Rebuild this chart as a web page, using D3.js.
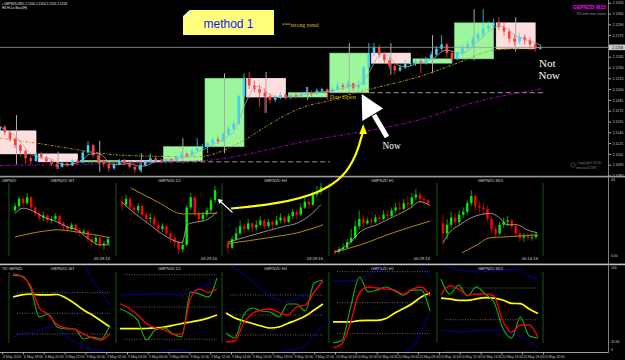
<!DOCTYPE html>
<html>
<head>
<meta charset="utf-8">
<script src="https://cdn.jsdelivr.net/npm/d3@7/dist/d3.min.js"></script>
<style>
  body { margin: 0; background: #000; }
  svg { display: block; font-family: "Liberation Sans", Arial, sans-serif; }
</style>
</head>
<body>
<div id="chart"></div>
<script>
/**********************/
/******* data         */
/**********************/

// main chart bars, prices in pips above 2.1000 (open = previous close)
const BASE = 2.1;
const firstOpen = 142;
const closes = [
  148,140,131,122,114,104,100,110,
  105,100,96,92,97,94,101,99,
  112,122,108,100,96,90,95,101,
  97,92,88,94,99,104,101,100,
  103,101,106,110,108,114,118,120,
  125,130,128,138,145,152,190,215,
  205,200,195,190,185,188,192,189,
  192,190,194,196,193,198,200,195,
  200,205,203,208,202,206,230,250,
  258,248,240,232,226,230,236,236,
  239,236,242,248,256,262,250,242,
  250,258,262,270,276,284,288,292,
  286,280,270,266,272,268,262,256,
  258
];
const highs = [
  164,150,142,133,124,116,108,112,
  113,107,102,98,99,99,103,103,
  115,128,124,110,102,98,97,103,
  103,98,94,97,101,111,106,103,
  105,104,108,113,112,117,132,124,
  126,133,134,140,148,156,192,222,
  224,212,206,201,194,192,196,195,
  194,195,196,203,198,201,202,201,
  203,210,208,212,209,212,233,264,
  264,262,252,244,236,234,240,240,
  242,241,245,252,260,275,264,252,
  252,262,266,274,280,311,294,298,
  300,292,284,276,278,276,272,266,
  262
];
const lows = [
  138,136,127,118,106,96,95,99,
  103,98,93,89,91,92,93,97,
  97,110,105,97,92,85,88,94,
  95,90,84,86,93,97,99,98,
  97,99,100,104,105,107,113,115,
  111,119,124,126,136,143,150,186,
  200,196,176,167,180,182,186,185,
  186,187,188,192,190,192,195,185,
  195,198,199,201,198,200,205,228,
  246,244,236,228,220,224,228,232,
  232,222,234,240,246,252,244,238,
  240,246,255,258,266,272,280,284,
  282,274,264,260,262,262,254,252,
  255
];

// slow moving averages (bar index, pips)
const maMidBar  = [0, 7, 24, 38, 47, 51, 58, 64, 69, 73, 81, 88, 95, 104];
const maMidPips = [132, 125, 108, 106, 129, 147, 174, 185, 196, 203, 218, 236, 254, 258];
const maSlowBar  = [0, 38, 60, 81, 91, 104];
const maSlowPips = [94, 100, 129, 158, 181, 200];
const dayStartBars = [16, 64];

const priceTicks = [2.1320, 2.1305, 2.1290, 2.1275, 2.1260, 2.1245, 2.1230, 2.1215, 2.1200,
                    2.1185, 2.1170, 2.1155, 2.1140, 2.1125, 2.1110, 2.1095, 2.1080];
const timeLabels = ["6 May 2016", "6 May 18:00", "6 May 20:00", "6 May 22:00",
  "9 May 00:00", "9 May 02:00", "9 May 04:00", "9 May 06:00", "9 May 08:00", "9 May 10:00",
  "9 May 12:00", "9 May 14:00", "9 May 16:00", "9 May 18:00", "9 May 20:00", "9 May 22:00",
  "10 May 00:00", "10 May 02:00", "10 May 04:00", "10 May 06:00", "10 May 08:00", "10 May 10:00",
  "10 May 12:00", "10 May 14:00", "10 May 16:00", "10 May 18:00", "10 May 20:00"];

// mini charts (values on a 0-100 panel scale)
const miniTitles = ["GBPNZD W1", "GBPNZD D1", "GBPNZD H4", "GBPNZD H1", "GBPNZD M15"];
const miniTimers = ["05:29:16", "03:29:16", "03:29:16", "00:29:16", "00:14:16"];

const w1Open = 62;
const w1Close = [68,78,72,80,66,58,52,55,48,50,54,44,40,36,42,35,31,33,22,18,24,14,16,22];
const w1High  = [72,82,80,86,82,68,60,60,56,54,58,56,46,42,45,44,38,36,34,26,28,25,20,26];
const w1Low   = [60,64,68,70,62,54,48,47,44,44,48,40,34,31,34,30,26,28,18,12,14,9,8,14];
const w1GrayBar = [0, 2, 4.5, 7, 10.4, 12.9, 15.3, 17.8, 21, 23.5];
const w1GrayVal = [58, 65, 61, 53, 46, 39, 35, 24, 14, 14];
const w1GoldBar = [0, 7, 10.4, 15.3, 23.5];
const w1GoldVal = [25, 33, 35, 32, 24];

const d1Open = 74;
const d1Close = [70,78,66,62,68,56,50,52,42,36,40,30,24,18,8,14,66,80,58,50,56,62,76,90];
const d1High  = [82,84,80,70,72,70,60,58,56,46,44,42,34,28,20,20,70,86,82,62,60,66,80,96];
const d1Low   = [62,66,62,56,58,52,44,44,38,30,32,26,18,10,2,4,12,62,54,44,46,52,58,72];
const d1GrayBar = [0.2, 2.7, 6.9, 11.1, 14.9, 16.1, 18.6, 21, 23.5];
const d1GrayVal = [72, 60, 42, 25, 17, 42, 46, 49, 60];
const d1GoldBar = [2.2, 8.7, 15.1, 23.5];
const d1GoldVal = [93, 74, 57, 58];

const h4Open = 16;
const h4Close = [10,22,30,40,36,44,38,42,48,40,46,42,48,52,46,54,60,56,66,74,70,84,88,94];
const h4High  = [20,26,38,48,44,50,46,48,54,50,50,48,54,58,54,58,64,64,72,80,78,88,96,100];
const h4Low   = [2,8,20,28,30,34,32,34,40,36,38,36,40,44,42,44,50,50,54,64,64,68,80,84];
const h4GrayBar = [0, 5, 10, 14, 17, 20, 23];
const h4GrayVal = [18, 26, 34, 40, 44, 54, 70];
const h4GoldBar = [0, 10, 18, 23.5];
const h4GoldVal = [16, 24, 32, 42];

const h1Open = 6;
const h1Close = [4,8,10,18,24,40,50,44,48,46,52,50,56,54,62,66,64,72,70,80,84,78,76,72];
const h1High  = [8,12,16,22,36,48,62,54,52,52,56,56,62,62,66,72,74,78,82,86,92,88,82,78];
const h1Low   = [0,2,6,8,16,22,36,38,42,40,44,46,48,50,52,58,60,62,64,66,76,72,70,66];
const h1GrayBar = [0, 3.7, 6.2, 10.4, 14.4, 18.6, 21, 23.5];
const h1GrayVal = [4, 17, 32, 42, 53, 65, 74, 69];
const h1GoldBar = [0, 6.2, 14.4, 23.5];
const h1GoldVal = [4, 14, 31, 47];

const m15Open = 44;
const m15Close = [30,42,52,46,56,60,72,82,68,66,64,50,36,30,42,46,48,40,30,24,26,24,25,28];
const m15High  = [56,50,60,58,62,66,76,90,84,74,72,68,54,40,46,52,54,50,44,34,30,30,30,32];
const m15Low   = [14,22,38,40,42,52,56,68,62,58,56,46,30,24,28,38,40,36,26,18,18,20,20,22];
const m15GrayBar = [0, 1.7, 4.2, 6.7, 9.2, 11.6, 14.1, 15.8, 18.3, 20.8, 23.3];
const m15GrayVal = [17, 32, 42, 51, 56, 58, 51, 42, 42, 35, 31];
const m15GoldBar = [4.7, 8.4, 11.6, 14.9, 23.5];
const m15GoldVal = [3, 14, 24, 25, 28];

// TDI sub charts, 12 samples across each panel
const tdiLevels = [32, 50, 68];
const tdiW1Green  = [83.1, 82.5, 72, 46.8, 49.4, 38, 36.3, 36.3, 27.6, 29.3, 27.6, 39.8];
const tdiW1Red    = [84.5, 82.1, 73.8, 54.6, 49, 40.2, 37.2, 35.9, 32, 28.5, 26.7, 32.2];
const tdiW1Yellow = [64.2, 66, 66.8, 66, 66, 66.4, 63.3, 58.5, 52.9, 48.5, 43.3, 38];
const tdiW1Up     = [113.9, 112.2, 109.5, 107.8, 105.2, 103.4, 100.8, 97.3, 92.1, 79, 68.6, 57.2];
const tdiW1Dn     = [29.3, 32, 33.7, 35, 38, 38, 30.2, 25, 21.5, 18, 17.1, 16.3];

const tdiD1Green  = [49, 46.6, 42.7, 31.6, 37.2, 38.3, 34.9, 33.3, 58.3, 57.2, 55.6, 66.2];
const tdiD1Red    = [51.8, 49.4, 45.5, 40.8, 38.3, 37.2, 34.9, 34.9, 55, 60, 58.1, 60];
const tdiD1Yellow = [37.9, 37.9, 37.9, 38, 38.3, 38.8, 39.7, 40.8, 41.6, 42.5, 43.8, 45.5];
const tdiD1Up     = [56.6, 56.8, 56.9, 57, 57.2, 57.2, 57, 56.5, 58.3, 60.9, 62.3, 65.6];
const tdiD1Dn     = [21.5, 22.1, 22.7, 23.2, 24.3, 25.4, 26, 26, 24.9, 22.7, 21.5, 21.5];

const tdiH4Green  = [33.8, 29.3, 50, 56.3, 53.6, 52.7, 48.2, 59.9, 59.9, 53.6, 78.8, 81.5];
const tdiH4Red    = [25.7, 26.6, 42.8, 51.4, 54.5, 55.4, 52.3, 50, 57.2, 59, 70.7, 80.6];
const tdiH4Yellow = [51.8, 47.3, 44.6, 42.4, 40.1, 38.3, 39.2, 42.4, 45.5, 49.1, 54.5, 59.9];
const tdiH4Up     = [97.7, 92.3, 86.9, 79.7, 73.4, 67.1, 63.5, 61.7, 64.4, 68, 74.3, 81.5];
const tdiH4Dn     = [7.7, 8.6, 9.5, 11.3, 13.1, 14.9, 16.7, 18.5, 19.4, 22.1, 33.8, 39.2];

const tdiH1Green  = [26.6, 28, 47.5, 64.9, 56.2, 57.3, 59.1, 56.8, 54.3, 57.3, 57.3, 45.1];
const tdiH1Red    = [23.7, 26, 38.8, 55.6, 59.1, 58.5, 57.9, 57.3, 55, 57.9, 59.1, 53.9];
const tdiH1Yellow = [38.8, 38.8, 38.8, 39.6, 39.7, 39.7, 40.8, 44, 46.6, 49.5, 53.3, 55.6];
const tdiH1Up     = [62.6, 62.6, 62.6, 63.7, 66.1, 69, 71.3, 73.6, 74.8, 73.6, 70.7, 64.9];
const tdiH1Dn     = [13.8, 13.8, 14.4, 15, 15.5, 16.7, 17.9, 19.6, 21.3, 23.7, 33, 44.6];

const tdiM15Green  = [73.1, 64.6, 69.7, 63.5, 68.6, 64.6, 60.1, 45.3, 39.6, 51.5, 40.8, 39.6];
const tdiM15Red    = [64, 69.4, 67.4, 63.9, 64.6, 64.6, 63.5, 49.3, 43, 47, 47, 40.2];
const tdiM15Yellow = [62.3, 61.8, 61, 61, 61.8, 62.6, 62.3, 61.2, 59.3, 59.1, 56.1, 53.5];
const tdiM15Up     = [81.1, 79.4, 78.2, 77.7, 77.1, 77.4, 77.7, 77.9, 78.5, 78.8, 74.8, 73.4];
const tdiM15Dn     = [44.2, 43.6, 43, 43.3, 43.9, 44, 44, 43.6, 41.9, 40.2, 37.9, 34.5];

/**********************/
/******* layout       */
/**********************/

const W = 625, H = 360;
const axisX = 608.5;
const subLeft = [9, 116, 222, 329, 437];
const subEnd = 543;

const svg = d3.select("#chart").append("svg").attr("width", W).attr("height", H);
svg.append("rect").attr("width", W).attr("height", H).attr("fill", "#000");
const defs = svg.append("defs");

function clip(id, x, y, w, h) {
    defs.append("clipPath").attr("id", id)
        .append("rect").attr("x", x).attr("y", y).attr("width", w).attr("height", h);
    return `url(#${id})`;
}

function txt(g, x, y, s, size, fill, extra) {
    const t = g.append("text").attr("x", x).attr("y", y).text(s)
        .style("font-size", size + "px").attr("fill", fill);
    if (extra) extra(t);
    return t;
}

/**********************/
/******* main chart   */
/**********************/

const px = v => BASE + v / 10000;
const x = d3.scaleLinear().domain([0, 117]).range([-3, 605.4]);
const y = d3.scaleLinear().domain([2.1080, 2.1320]).range([175.5, 2.7]);

const candles = closes.map((c, i) => ({ i, o: i ? closes[i - 1] : firstOpen, h: highs[i], l: lows[i], c }));

const boxes = d3.range(Math.floor(candles.length / 8)).map(k => {
    const b = candles.slice(k * 8, k * 8 + 8);
    return { k, o: b[0].o, c: b[b.length - 1].c, h: d3.max(b, d => d.h), l: d3.min(b, d => d.l) };
});

const main = svg.append("g").attr("clip-path", clip("cm", 0, 0, 608, 175.5));

// H4 body boxes
main.selectAll(".box")
    .data(boxes)
    .enter()
    .append("rect")
    .attr("class", "box")
    .attr("x", d => x(d.k * 8))
    .attr("width", d => x(d.k * 8 + 7.5) - x(d.k * 8))
    .attr("y", d => y(px(Math.max(d.o, d.c))))
    .attr("height", d => Math.max(1.5, y(px(Math.min(d.o, d.c))) - y(px(Math.max(d.o, d.c)))))
    .attr("fill", d => d.c >= d.o ? "#9cf79c" : "#ffdede")
    .attr("stroke", d => d.c >= d.o ? "#7ee07e" : "#fff4f4")
    .attr("stroke-width", 0.6);

// H4 wicks
main.selectAll(".hwick")
    .data(boxes)
    .enter()
    .append("line")
    .attr("x1", d => x(d.k * 8 + 3.75)).attr("x2", d => x(d.k * 8 + 3.75))
    .attr("y1", d => y(px(d.h))).attr("y2", d => y(px(d.l)))
    .attr("stroke", "#a9a9a9").attr("stroke-width", 1);

// day open lines
main.selectAll(".dayopen")
    .data(dayStartBars)
    .enter()
    .append("line")
    .attr("x1", d => x(d))
    .attr("x2", (d, i) => x(i + 1 < dayStartBars.length ? dayStartBars[i + 1] : candles.length))
    .attr("y1", d => y(px(candles[d].o))).attr("y2", d => y(px(candles[d].o)))
    .attr("stroke", "#9a9a9a").attr("stroke-width", 1).attr("stroke-dasharray", "5,3");

const maLine = d3.line()
    .x(d => x(d[0] + 0.5))
    .y(d => y(px(d[1])))
    .curve(d3.curveMonotoneX);

main.append("path")
    .attr("d", maLine(d3.zip(maSlowBar, maSlowPips)))
    .attr("fill", "none").attr("stroke", "#b000b0").attr("stroke-width", 1)
    .attr("stroke-dasharray", "3,1.5,1,1.5");

main.append("path")
    .attr("d", maLine(d3.zip(maMidBar, maMidPips)))
    .attr("fill", "none").attr("stroke", "#b89a00").attr("stroke-width", 1)
    .attr("stroke-dasharray", "2.5,1.5,1,1.5");

// candles
const bullCol = "#3cd2f0", bearCol = "#ff3c3c";
const cg = main.selectAll(".candle")
    .data(candles)
    .enter()
    .append("g");

cg.append("line")
    .attr("x1", d => x(d.i + 0.5)).attr("x2", d => x(d.i + 0.5))
    .attr("y1", d => y(px(d.h))).attr("y2", d => y(px(d.l)))
    .attr("stroke", d => d.c >= d.o ? bullCol : bearCol).attr("stroke-width", 0.8);

cg.append("rect")
    .attr("x", d => x(d.i + 0.5) - 1.3)
    .attr("width", 2.6)
    .attr("y", d => y(px(Math.max(d.o, d.c))))
    .attr("height", d => Math.max(0.8, y(px(Math.min(d.o, d.c))) - y(px(Math.max(d.o, d.c)))))
    .attr("fill", d => d.c >= d.o ? bullCol : bearCol);

// fast average of closes
const fast = candles.map((d, i) => [i, d3.mean(closes.slice(Math.max(0, i - 3), i + 1))]);
main.append("path")
    .attr("d", maLine(fast))
    .attr("fill", "none").attr("stroke", "#a8a8a8").attr("stroke-width", 0.8);

// bid line
const last = closes[closes.length - 1];
svg.append("line")
    .attr("x1", 0).attr("x2", axisX)
    .attr("y1", y(px(last))).attr("y2", y(px(last)))
    .attr("stroke", "#9a9a9a").attr("stroke-width", 0.8);

// price axis
const yAxis = svg.append("g")
    .attr("transform", `translate(${axisX}, 0)`)
    .call(d3.axisRight(y).tickValues(priceTicks).tickFormat(d3.format(".4f")).tickSize(2.5).tickPadding(1.5));
yAxis.select(".domain").remove();
yAxis.selectAll("line").attr("stroke", "#b0b0b0");
yAxis.selectAll("text").attr("fill", "#c8c8c8").style("font-size", "3.6px").attr("font-family", "Liberation Sans, Arial");

svg.append("rect")
    .attr("x", axisX + 0.5).attr("y", y(px(last)) - 2.8)
    .attr("width", 16).attr("height", 5.6).attr("fill", "#c8c8c8");
txt(svg, axisX + 3.5, y(px(last)) + 1.3, d3.format(".4f")(px(last)), 3.6, "#000");

// chart texts
txt(svg, 2, 4.5, "\u25aa GBPNZD,M15  2.1260 2.1264 2.1255 2.1258", 3.2, "#e0e0e0");
txt(svg, 2, 9, "H4 Hi-Lo Box(4H)", 3.2, "#e0e0e0");
txt(svg, 606, 8.5, "GBPNZD M15", 5.2, "#ff00ff", t => t.attr("text-anchor", "end").attr("font-weight", "bold"));
txt(svg, 606, 14.5, "TDI with mini charts", 3.4, "#9a9a9a", t => t.attr("text-anchor", "end"));
svg.append("circle").attr("cx", 573).attr("cy", 165).attr("r", 2.2)
    .attr("fill", "none").attr("stroke", "#6a6a6a").attr("stroke-width", 0.6);
txt(svg, 577, 163.5, "Copyright\u00a92016", 3.3, "#7a7a7a");
txt(svg, 576, 168.5, "emanuel1788", 3.3, "#7a7a7a");

txt(svg, x(dayStartBars[1]), y(px(candles[dayStartBars[1]].o)) + 6.5, "Day Open", 6.4, "#d6b400",
    t => t.attr("font-family", "Liberation Serif, Times New Roman, serif"));

/**********************/
/******* sub panels   */
/**********************/

// separators and axes
svg.append("rect").attr("x", 0).attr("y", 175.8).attr("width", W).attr("height", 1.6).attr("fill", "#9a9a9a");
svg.append("rect").attr("x", 0).attr("y", 263.6).attr("width", W).attr("height", 1.6).attr("fill", "#c4c4c4");
svg.append("line").attr("x1", axisX).attr("x2", axisX).attr("y1", 0).attr("y2", 352.5)
    .attr("stroke", "#a0a0a0").attr("stroke-width", 0.8);

txt(svg, 2, 181.5, "GBPNZD", 3.4, "#d8d8d8");
txt(svg, 2, 269.5, "TDI GBPNZD", 3.4, "#d8d8d8");
txt(svg, 611, 181, "43", 3.4, "#c8c8c8");
txt(svg, 611, 257, "0.00", 3.4, "#c8c8c8");
txt(svg, 611, 268.5, "100", 3.4, "#c8c8c8");
txt(svg, 611, 343, "32.00", 3.4, "#c8c8c8");
txt(svg, 611, 350.5, "0", 3.4, "#c8c8c8");

// dark green dividers
[183, 272].forEach((top, p) => {
    svg.selectAll(null)
        .data(subLeft.concat([subEnd]))
        .enter()
        .append("line")
        .attr("x1", d => d).attr("x2", d => d)
        .attr("y1", top).attr("y2", p ? 343 : 256)
        .attr("stroke", "#0f4a0f").attr("stroke-width", 1.2);
});

const minis = [
    { open: w1Open, close: w1Close, high: w1High, low: w1Low, gray: [w1GrayBar, w1GrayVal], gold: [w1GoldBar, w1GoldVal] },
    { open: d1Open, close: d1Close, high: d1High, low: d1Low, gray: [d1GrayBar, d1GrayVal], gold: [d1GoldBar, d1GoldVal] },
    { open: h4Open, close: h4Close, high: h4High, low: h4Low, gray: [h4GrayBar, h4GrayVal], gold: [h4GoldBar, h4GoldVal] },
    { open: h1Open, close: h1Close, high: h1High, low: h1Low, gray: [h1GrayBar, h1GrayVal], gold: [h1GoldBar, h1GoldVal] },
    { open: m15Open, close: m15Close, high: m15High, low: m15Low, gray: [m15GrayBar, m15GrayVal], gold: [m15GoldBar, m15GoldVal] }
];

const tdis = [
    { domain: [18, 86],     green: tdiW1Green,  red: tdiW1Red,  yellow: tdiW1Yellow,  up: tdiW1Up,  dn: tdiW1Dn },
    { domain: [26, 69.5],   green: tdiD1Green,  red: tdiD1Red,  yellow: tdiD1Yellow,  up: tdiD1Up,  dn: tdiD1Dn },
    { domain: [18.5, 88.7], green: tdiH4Green,  red: tdiH4Red,  yellow: tdiH4Yellow,  up: tdiH4Up,  dn: tdiH4Dn },
    { domain: [22.5, 67.8], green: tdiH1Green,  red: tdiH1Red,  yellow: tdiH1Yellow,  up: tdiH1Up,  dn: tdiH1Dn },
    { domain: [32.8, 77.1], green: tdiM15Green, red: tdiM15Red, yellow: tdiM15Yellow, up: tdiM15Up, dn: tdiM15Dn }
];

minis.forEach((m, s) => {
    const L = subLeft[s];
    const g = svg.append("g").attr("clip-path", clip("p2c" + s, L + 1, 178, 106, 84));
    const mx = d3.scaleLinear().domain([-0.5, 23.5]).range([L + 4, L + 101]);
    const my = d3.scaleLinear().domain([0, 100]).range([255, 183]);
    const bars = m.close.map((c, i) => ({ i, o: i ? m.close[i - 1] : m.open, h: m.high[i], l: m.low[i], c }));

    const bg = g.selectAll(".mc").data(bars).enter().append("g");
    bg.append("line")
        .attr("x1", d => mx(d.i)).attr("x2", d => mx(d.i))
        .attr("y1", d => my(d.h)).attr("y2", d => my(d.l))
        .attr("stroke", d => d.c >= d.o ? "#00ee00" : "#ff0000").attr("stroke-width", 0.7);
    bg.append("rect")
        .attr("x", d => mx(d.i) - 1.2).attr("width", 2.4)
        .attr("y", d => my(Math.max(d.o, d.c)))
        .attr("height", d => Math.max(0.7, my(Math.min(d.o, d.c)) - my(Math.max(d.o, d.c))))
        .attr("fill", d => d.c >= d.o ? "#00ee00" : "#ff0000");

    const line = d3.line().x(d => mx(d[0])).y(d => my(d[1])).curve(d3.curveMonotoneX);
    g.append("path").attr("d", line(d3.zip(m.gold[0], m.gold[1])))
        .attr("fill", "none").attr("stroke", "#b8860b").attr("stroke-width", 1);
    g.append("path").attr("d", line(d3.zip(m.gray[0], m.gray[1])))
        .attr("fill", "none").attr("stroke", "#b4b4b4").attr("stroke-width", 0.8);

    txt(svg, L + 53.5, 182, miniTitles[s], 4, "#d0d0d0", t => t.attr("text-anchor", "middle"));
    txt(svg, L + 101, 260, miniTimers[s], 4.2, "#d0d0d0", t => t.attr("text-anchor", "end"));
    txt(svg, L + 53.5, 270, miniTitles[s], 4, "#d0d0d0", t => t.attr("text-anchor", "middle"));
});

tdis.forEach((t, s) => {
    const L = subLeft[s];
    const g = svg.append("g").attr("clip-path", clip("p3c" + s, L + 1, 266, 106, 85.5));
    const tx = d3.scaleLinear().domain([0, 11]).range([L + 4, L + 101]);
    const ty = d3.scaleLinear().domain(t.domain).range([350, 272]);

    g.selectAll(".lvl").data(tdiLevels).enter().append("line")
        .attr("x1", L + 8).attr("x2", L + 101)
        .attr("y1", d => ty(d)).attr("y2", d => ty(d))
        .attr("stroke", "#8a8a8a").attr("stroke-width", 0.7).attr("stroke-dasharray", "1,1.5");

    const line = d3.line().x((d, i) => tx(i)).y(d => ty(d)).curve(d3.curveMonotoneX);
    [[t.up, "#0000c8", 0.8], [t.dn, "#0000c8", 0.8], [t.yellow, "#ffff00", 1.7],
     [t.green, "#13a813", 1.2], [t.red, "#ff0000", 1.3]].forEach(([vals, col, w]) => {
        g.append("path").attr("d", line(vals))
            .attr("fill", "none").attr("stroke", col).attr("stroke-width", w);
    });
});

// time axis
const xAxis = svg.append("g")
    .attr("transform", "translate(0, 352.5)")
    .call(d3.axisBottom(x).tickValues(timeLabels.map((d, n) => 1 + 4 * n))
        .tickFormat((d, n) => timeLabels[n]).tickSize(2).tickPadding(1));
xAxis.select(".domain").attr("stroke", "#a0a0a0").attr("d", `M0,0H${axisX}`);
xAxis.selectAll("line").attr("stroke", "#b0b0b0");
xAxis.selectAll("text").attr("fill", "#c8c8c8").style("font-size", "3.4px")
    .attr("text-anchor", "start").attr("dx", "0.6").attr("font-family", "Liberation Sans, Arial");

/**********************/
/******* annotations  */
/**********************/

const note = svg.append("g");
note.append("polygon")
    .attr("points", "190,10 274,10 274,35 183,35 183,16.5")
    .attr("fill", "#ffff7a");
note.append("polygon")
    .attr("points", "183,16.5 190,10 191.5,17.5")
    .attr("fill", "#ffffcc").attr("stroke", "#e6e66a").attr("stroke-width", 0.5);
txt(note, 203.5, 28, "method 1", 12, "#1414ff");
txt(note, 282, 27, "***strong trend", 5.8, "#d8bf3a",
    t => t.attr("font-family", "Liberation Serif, Times New Roman, serif"));

note.append("line").attr("x1", 374).attr("y1", 115).attr("x2", 387).attr("y2", 137)
    .attr("stroke", "#fff").attr("stroke-width", 5);
note.append("polygon").attr("points", "361.7,94 362.3,121 383,108.5").attr("fill", "#fff");
txt(note, 382.5, 148.5, "Now", 9.4, "#fff", t => t.attr("font-family", "Liberation Serif, Times New Roman, serif"));
txt(note, 539, 66.5, "Not", 11, "#fff", t => t.attr("font-family", "Liberation Serif, Times New Roman, serif"));
txt(note, 538.5, 79, "Now", 11, "#fff", t => t.attr("font-family", "Liberation Serif, Times New Roman, serif"));

const curve = d3.line().curve(d3.curveBasis);
note.append("path")
    .attr("d", curve([[231, 208.5], [278, 204], [320, 193], [344, 177], [357, 154], [362.5, 133]]))
    .attr("fill", "none").attr("stroke", "#ffff00").attr("stroke-width", 2.2);
note.append("polygon").attr("points", "363.2,124 359.3,134 367,134").attr("fill", "#ffff00");

note.append("line").attr("x1", 232.5).attr("y1", 212.5).attr("x2", 220.5).attr("y2", 201.5)
    .attr("stroke", "#fff").attr("stroke-width", 1.1);
note.append("polygon").attr("points", "218,199 219,204 223,200").attr("fill", "#fff");
</script>
</body>
</html>
